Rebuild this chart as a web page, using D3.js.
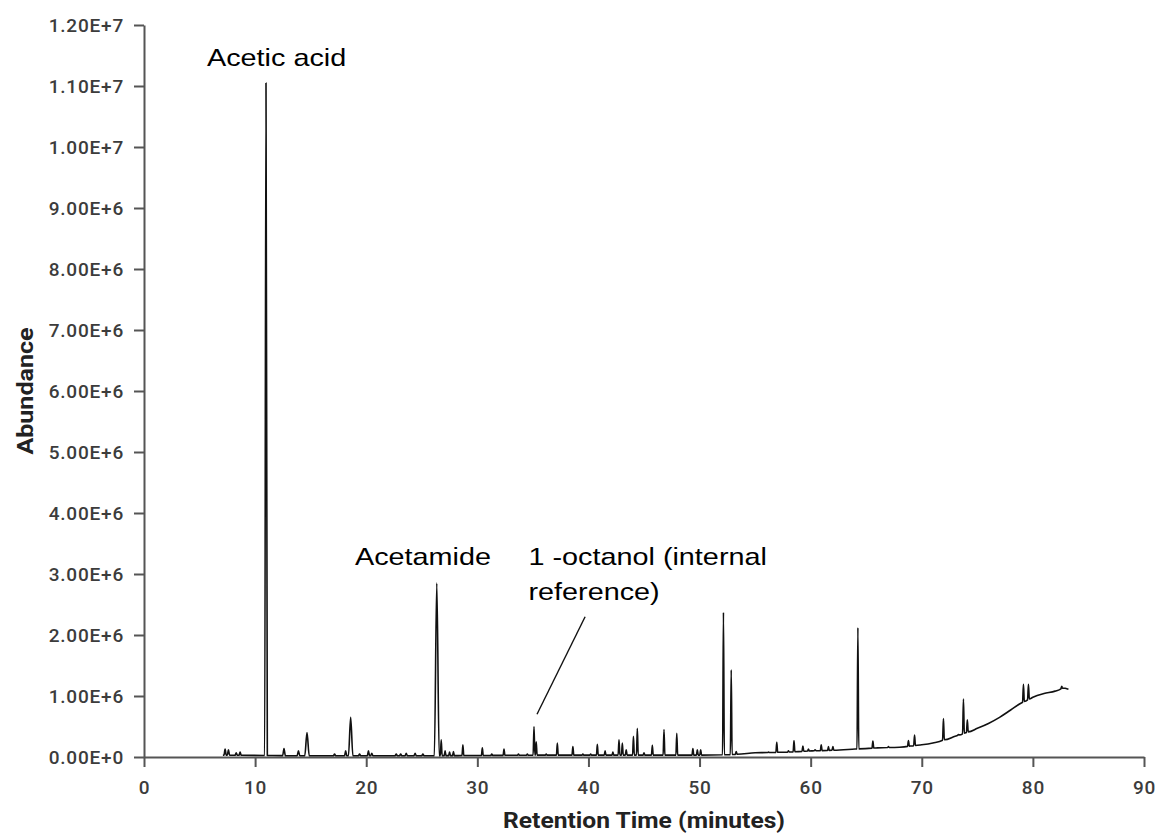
<!DOCTYPE html>
<html>
<head>
<meta charset="utf-8">
<script src="https://cdn.jsdelivr.net/npm/d3@7"></script>
<style>
  body { margin: 0; background: #fff; }
  .tick text { font-family: Roboto, "Noto Sans", sans-serif; font-weight: 500; fill: #3c3c3c; }
  .axis-title { font-family: Roboto, "Noto Sans", sans-serif; font-weight: 700; fill: #222; }
  .note { font-family: "Liberation Sans", Arial, sans-serif; fill: #000; }
</style>
</head>
<body>
<svg id="chart"></svg>
<script>
var margin = {top: 25, right: 16, bottom: 82, left: 144},
    width = 1160,
    height = 839;

// tick values
var xTicks = [0, 10, 20, 30, 40, 50, 60, 70, 80, 90];
var yTicks = [0, 1e6, 2e6, 3e6, 4e6, 5e6, 6e6, 7e6, 8e6, 9e6, 10e6, 11e6, 12e6];

// baseline of the chromatogram: [minutes, abundance]
var baseline = [
  [7.1, 0.03e6], [15, 0.02e6], [25, 0.02e6], [35, 0.03e6], [45, 0.03e6],
  [50, 0.03e6], [53, 0.04e6], [55, 0.07e6], [58, 0.08e6], [60, 0.10e6],
  [62, 0.11e6], [64, 0.13e6], [66, 0.15e6], [68, 0.16e6], [69, 0.18e6],
  [70, 0.20e6], [71, 0.23e6], [72, 0.28e6], [73, 0.34e6], [74, 0.40e6],
  [75, 0.47e6], [76, 0.55e6], [77, 0.65e6], [78, 0.77e6], [79, 0.89e6],
  [80, 0.98e6], [81, 1.04e6], [82, 1.08e6], [82.7, 1.13e6], [83.2, 1.11e6]
];

// peaks: [retention time, apex abundance, half width (min)]
var peaks = [
  [7.3, 0.13e6, 0.1], [7.6, 0.12e6, 0.1], [8.3, 0.07e6, 0.1], [8.65, 0.08e6, 0.1],
  [10.98, 11.05e6, 0.12],
  [12.6, 0.14e6, 0.12], [13.9, 0.10e6, 0.12], [14.67, 0.40e6, 0.2],
  [17.15, 0.05e6, 0.1], [18.15, 0.10e6, 0.1], [18.6, 0.65e6, 0.2], [19.4, 0.05e6, 0.1],
  [20.2, 0.10e6, 0.1], [20.5, 0.06e6, 0.1], [22.7, 0.05e6, 0.1], [23.1, 0.05e6, 0.1],
  [23.6, 0.06e6, 0.1], [24.4, 0.06e6, 0.1], [25.1, 0.05e6, 0.1],
  [26.35, 2.85e6, 0.22],
  [26.75, 0.28e6, 0.08], [27.1, 0.10e6, 0.08], [27.5, 0.08e6, 0.08], [27.85, 0.09e6, 0.08],
  [28.7, 0.20e6, 0.08], [30.45, 0.15e6, 0.08], [31.3, 0.05e6, 0.08], [32.4, 0.13e6, 0.08],
  [33.7, 0.05e6, 0.08], [34.5, 0.05e6, 0.08],
  [35.1, 0.50e6, 0.08], [35.3, 0.25e6, 0.08], [36.2, 0.05e6, 0.08], [37.2, 0.23e6, 0.08],
  [38.6, 0.17e6, 0.08], [39.5, 0.05e6, 0.08], [40.2, 0.05e6, 0.08], [40.8, 0.21e6, 0.08],
  [41.5, 0.10e6, 0.08], [42.2, 0.08e6, 0.08], [42.75, 0.28e6, 0.08], [43.05, 0.23e6, 0.08],
  [43.4, 0.12e6, 0.08], [44.05, 0.34e6, 0.08], [44.4, 0.47e6, 0.08], [45.0, 0.07e6, 0.08],
  [45.75, 0.19e6, 0.08], [46.8, 0.45e6, 0.08], [47.95, 0.39e6, 0.08],
  [49.4, 0.14e6, 0.08], [49.8, 0.12e6, 0.08], [50.1, 0.12e6, 0.08],
  [52.15, 2.37e6, 0.08], [52.85, 1.43e6, 0.08], [53.3, 0.09e6, 0.08],
  [56.2, 0.08e6, 0.08], [56.95, 0.24e6, 0.08], [58.0, 0.10e6, 0.08], [58.5, 0.27e6, 0.08],
  [59.3, 0.18e6, 0.08], [59.8, 0.13e6, 0.08], [60.4, 0.12e6, 0.08], [60.95, 0.20e6, 0.08],
  [61.6, 0.17e6, 0.08], [62.0, 0.17e6, 0.08],
  [64.25, 2.12e6, 0.08], [65.6, 0.26e6, 0.08], [67.0, 0.17e6, 0.08],
  [68.8, 0.27e6, 0.08], [69.35, 0.36e6, 0.08], [71.95, 0.63e6, 0.08],
  [73.3, 0.37e6, 0.08], [73.75, 0.95e6, 0.08], [74.1, 0.61e6, 0.08],
  [79.15, 1.19e6, 0.08], [79.6, 1.19e6, 0.08], [82.6, 1.16e6, 0.08]
];

// annotations: text lines anchored in data coordinates
var notes = [
  {lines: ["Acetic acid"], t: 5.67, v: 11.33e6},
  {lines: ["Acetamide"], t: 18.99, v: 3.15e6},
  {lines: ["1 -octanol (internal", "reference)"], t: 34.6, v: 3.15e6}
];
var leader = [[39.7, 2.30e6], [35.37, 0.70e6]];

var svg = d3.select("#chart")
    .attr("width", width)
    .attr("height", height);

var x = d3.scaleLinear()
    .domain([0, 90])
    .range([margin.left, width - margin.right]);

var y = d3.scaleLinear()
    .domain([0, 12e6])
    .range([height - margin.bottom, margin.top]);

var baseAt = d3.scaleLinear()
    .domain(baseline.map(function(d) { return d[0]; }))
    .range(baseline.map(function(d) { return d[1]; }))
    .clamp(true);

//Trace: baseline knots plus a narrow spike for each peak
var trace = baseline.filter(function(b) {
  return !peaks.some(function(p) { return Math.abs(b[0] - p[0]) <= p[2]; });
});
peaks.forEach(function(p) {
  trace.push([p[0] - p[2], baseAt(p[0] - p[2])]);
  trace.push([p[0], p[1]]);
  trace.push([p[0] + p[2], baseAt(p[0] + p[2])]);
});
trace.sort(function(a, b) { return a[0] - b[0]; });

var line = d3.line()
    .x(function(d) { return x(d[0]); })
    .y(function(d) { return y(d[1]); });

//Axes
var fmt = function(d) { return d3.format(".2e")(d).replace("e", "E"); };

var gx = svg.append("g")
    .attr("transform", "translate(0," + y(0) + ")")
    .call(d3.axisBottom(x).tickValues(xTicks).tickSize(10).tickPadding(14).tickSizeOuter(0));

var gy = svg.append("g")
    .attr("transform", "translate(" + x(0) + ",0)")
    .call(d3.axisLeft(y).tickValues(yTicks).tickFormat(fmt).tickSize(10).tickPadding(10).tickSizeOuter(0));

[gx, gy].forEach(function(g) {
  g.select(".domain").attr("stroke", "#555").attr("stroke-width", 2);
  g.selectAll(".tick line").attr("stroke", "#555").attr("stroke-width", 2);
  g.selectAll(".tick text").style("font-size", "19px").style("letter-spacing", "0.8px");
});

svg.append("text")
    .attr("class", "axis-title")
    .attr("transform", "translate(" + (x(0) + x(90)) / 2 + ",828) scale(1.12,1)")
    .attr("text-anchor", "middle")
    .style("font-size", "22px")
    .text("Retention Time (minutes)");

svg.append("text")
    .attr("class", "axis-title")
    .attr("transform", "translate(33," + y(6e6) + ") rotate(-90) scale(1.14,1)")
    .attr("text-anchor", "middle")
    .style("font-size", "22px")
    .text("Abundance");

//Chromatogram
svg.append("path")
    .datum(trace)
    .attr("fill", "none")
    .attr("stroke", "#111")
    .attr("stroke-width", 1.6)
    .attr("stroke-linejoin", "round")
    .attr("d", line.curve(d3.curveMonotoneX));

//Annotations
notes.forEach(function(n) {
  var t = svg.append("text")
      .attr("class", "note")
      .attr("transform", "translate(" + x(n.t) + "," + y(n.v) + ") scale(1.2,1)")
      .style("font-size", "24px");
  n.lines.forEach(function(s, i) {
    t.append("tspan").attr("x", 0).attr("dy", i ? 35 : 0).text(s);
  });
});

svg.append("path")
    .datum(leader)
    .attr("fill", "none")
    .attr("stroke", "#111")
    .attr("stroke-width", 1.4)
    .attr("d", line.curve(d3.curveLinear));
</script>
</body>
</html>
